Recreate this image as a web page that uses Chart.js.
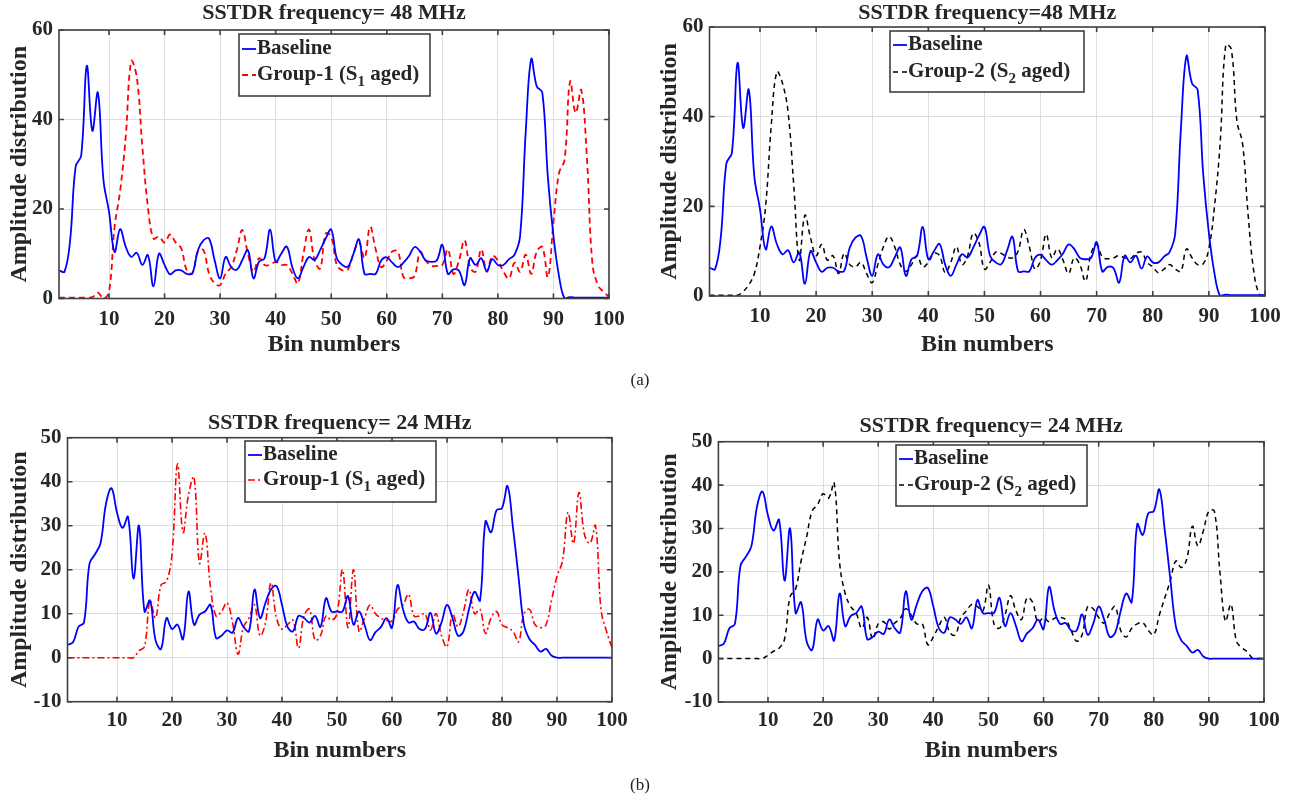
<!DOCTYPE html>
<html>
<head>
<meta charset="utf-8">
<script src="https://cdn.jsdelivr.net/npm/chart.js@4.4.1/dist/chart.umd.min.js"></script>
<style>
  body { margin:0; background:#fff; width:1295px; height:800px; position:relative; overflow:hidden;
         font-family:"Liberation Serif", "Times New Roman", serif; }
  .panel { position:absolute; }
  .cap { position:absolute; font-size:17px; color:#222; transform:translateX(-50%); }
</style>
</head>
<body>
<div class="panel" style="left:0;top:0;width:645px;height:372px"><canvas id="c48g1"></canvas></div>
<div class="panel" style="left:645px;top:0;width:650px;height:372px"><canvas id="c48g2"></canvas></div>
<div class="panel" style="left:0;top:400px;width:645px;height:372px"><canvas id="c24g1"></canvas></div>
<div class="panel" style="left:645px;top:400px;width:650px;height:372px"><canvas id="c24g2"></canvas></div>
<div class="cap" style="left:640px;top:370px">(a)</div>
<div class="cap" style="left:640px;top:775px">(b)</div>

<script>
// ── Dados ────────────────────────────────────────────────────
const BINS = Array.from({ length: 100 }, (_, i) => i + 1);
const X_TICKS = [10, 20, 30, 40, 50, 60, 70, 80, 90, 100];
const Y_TICKS_48 = [0, 20, 40, 60];
const Y_TICKS_24 = [-10, 0, 10, 20, 30, 40, 50];

const baseline48 = [
  6.3, 6.0, 13, 29.5, 32, 52, 37.5, 46, 26.5, 19.4,
  10.4, 15.5, 11.6, 9.3, 10.2, 7.5, 9.7, 2.7, 10, 7.5,
  5.4, 6.3, 6.3, 5.5, 5.6, 10.8, 13, 13.4, 8.6, 4.5,
  9.3, 7, 6.4, 8.6, 10.8, 4.5, 8.2, 9, 15.4, 8.2,
  10, 11.6, 7, 4.5, 7, 9.3, 8.6, 10.8, 13.4, 15.4,
  9, 7.5, 7.1, 10, 13.2, 5.5, 5.5, 5.5, 8.5, 9.2,
  8, 7, 8, 9.5, 11.5, 10.5, 8.5, 8.2, 8.5, 12,
  5.5, 6.5, 6.2, 3, 9, 7.5, 9, 6.1, 8.8, 7.5,
  7.5, 8.8, 9.8, 14, 37, 53.5, 47.4, 46, 27, 14,
  5, 0, 0.3, 0.2, 0.2, 0.2, 0.2, 0.2, 0.2, 0.2
];
const group1_48 = [
  0.2, 0.2, 0.2, 0.2, 0.2, 0.2, 0.3, 1.3, 0, 1.5,
  16, 24, 36, 53, 49.5, 34, 20.5, 13.4, 13.8, 12.5,
  14.3, 12.5, 11.2, 6.3, 5.6, 10.4, 10.8, 5.6, 3.4, 3,
  5.6, 7, 10.8, 15.3, 10, 6, 9, 7.5, 7.5, 8.2,
  7.5, 7.5, 5.6, 3.4, 10, 15.4, 8.6, 6.7, 14.5, 13.8,
  7.5, 6.3, 6.5, 10, 12.5, 9, 16, 11, 7, 8.5,
  10.5, 10.5, 4.8, 4.5, 5, 10.4, 8.5, 7.3, 7.3, 7.5,
  11, 5.5, 8.5, 13, 7, 6, 11, 6, 9.5, 8.5,
  6, 4.5, 8, 6, 9.8, 5.5, 10.5, 11.5, 4.8, 17,
  28, 31, 48.5, 41.5, 46.6, 32, 8, 3, 1.5, 0.4
];
const group2_48 = [
  0.15, 0.15, 0.15, 0.15, 0.15, 0.15, 1, 2.5, 5, 11,
  20, 38, 50, 47.5, 41, 25, 8, 18, 13, 9,
  11.5, 8, 9, 5, 9.5, 7, 6.5, 7.5, 5, 3,
  7, 11, 13.3, 11, 7, 5.5, 7, 9, 6.5, 7.5,
  9.5, 9, 5.2, 7.5, 11, 7, 9, 14, 12, 6,
  7.5, 9.8, 9.5, 8.7, 8.5, 10, 14.8, 11, 6, 8,
  13.8, 8.5, 10.5, 8, 5, 8.5, 7, 3.3, 9.5, 11.5,
  8.7, 8.3, 8.5, 9, 8.5, 8.3, 9.5, 9.8, 7.5, 6.5,
  5.2, 6, 7, 6, 5.5, 10.5, 8.5, 7, 7.2, 10.6,
  20, 34, 56, 55, 39, 34, 18, 5.5, 0.4, 0.1
];

const baseline24 = [
  2.9, 3.5, 7, 8, 21.4, 23.5, 26, 35, 38.5, 33,
  29.5, 32, 18, 30, 10.5, 13, 4, 2, 9, 6.5,
  7.5, 4.2, 15, 7.5, 9.8, 10.5, 12, 4.5, 5, 6.2,
  5.7, 9, 7, 6, 15.5, 9, 12.5, 15.5, 16.3, 12,
  7, 6, 9.5, 9, 8, 9.5, 7, 13.5, 10.5, 10.5,
  10.5, 14, 7.5, 10.5, 7.5, 4, 5.8, 7, 9, 6.8,
  16.5, 11, 8, 8.2, 6.5, 6.5, 10.2, 5.5, 8, 12,
  9, 5, 6, 11, 15, 13, 31, 28.5, 33.5, 34,
  39, 29.5, 18.4, 7.5, 4.2, 2.9, 1.4, 2, 0.5, 0,
  0, 0, 0, 0, 0, 0, 0, 0, 0, 0
];
const group1_24 = [
  0, 0, 0, 0, 0, 0, 0, 0, 0, 0,
  0, 0, 0, 1.6, 2.5, 13, 9, 16.5, 17.3, 23.5,
  44, 28.5, 37, 41, 21.5, 28.3, 16, 9.5, 10.5, 12.5,
  8, 0.8, 7, 9, 12, 5, 8, 17, 9, 6.5,
  7.5, 8.5, 2.2, 9.5, 11, 4, 5, 9.5, 8.5, 10,
  20, 6.8, 20, 6, 9, 12, 10, 9, 8.5, 8.3,
  11, 12, 14.4, 9.5, 9.5, 10, 6.3, 10, 5, 2.5,
  10, 7, 10.5, 15.5, 10, 11, 5.5, 9, 10.5, 7.5,
  6.8, 6, 3.6, 10, 11, 7.5, 6.8, 7.5, 13, 18.5,
  22, 33, 26, 37.5, 28, 26, 30, 11, 6, 2.3
];
const group2_24 = [
  0, 0, 0, 0, 0, 0, 0, 0, 0, 0.8,
  1.7, 2.4, 4.5, 14.3, 16, 22.5, 28, 34, 35.5, 38,
  37, 40.5, 22, 15, 12, 10.5, 7, 9.5, 4.5, 8,
  8.5, 6.8, 8.2, 9.3, 11.5, 10, 8, 8, 3.2, 5,
  7.5, 9.5, 6, 5.5, 9.5, 11, 12.5, 12, 11, 17,
  8, 7, 10, 14.5, 11, 9, 14, 13, 8.3, 9.5,
  8.5, 9.3, 9.5, 9, 6.5, 4, 5.5, 12, 11.5, 9.5,
  8.2, 10.5, 12, 6.5, 5, 7, 8, 8.3, 6.5, 5.5,
  10, 14, 18, 22.5, 21, 23, 30.5, 26, 29.5, 34,
  34, 20, 8.6, 12.5, 4, 2.5, 1.5, 0, 0, 0
];

// ── Estilos ──────────────────────────────────────────────────
const FONT = '"Liberation Serif", "Times New Roman", serif';
const INK  = '#262626';

const STYLE_BASE  = { borderColor: '#0000ff', borderWidth: 1.8, borderDash: [] };
const STYLE_RED48 = { borderColor: '#ff0000', borderWidth: 1.8, borderDash: [6, 4] };
const STYLE_RED24 = { borderColor: '#ff0000', borderWidth: 1.6, borderDash: [7, 3, 2, 3] };
const STYLE_BLACK = { borderColor: '#000000', borderWidth: 1.5, borderDash: [5, 4] };

// ── Plugins ──────────────────────────────────────────────────
const framePlugin = {
  id: 'frame',
  afterDatasetsDraw(chart) {
    const { ctx, chartArea: a, scales: { x, y } } = chart;
    ctx.save();
    ctx.strokeStyle = '#404040';
    ctx.lineWidth = 1.6;
    ctx.setLineDash([]);
    ctx.strokeRect(a.left, a.top, a.width, a.height);
    ctx.beginPath();
    x.ticks.forEach(t => {
      const px = x.getPixelForValue(t.value);
      ctx.moveTo(px, a.bottom); ctx.lineTo(px, a.bottom - 5);
      ctx.moveTo(px, a.top);    ctx.lineTo(px, a.top + 5);
    });
    y.ticks.forEach(t => {
      const py = y.getPixelForValue(t.value);
      ctx.moveTo(a.left, py);  ctx.lineTo(a.left + 5, py);
      ctx.moveTo(a.right, py); ctx.lineTo(a.right - 5, py);
    });
    ctx.stroke();
    ctx.restore();
  }
};

const legendPlugin = {
  id: 'boxLegend',
  afterDatasetsDraw(chart, args, opts) {
    const { ctx } = chart;
    const b = opts.box;
    ctx.save();
    ctx.fillStyle = '#fff';
    ctx.fillRect(b.x, b.y, b.w, b.h);
    ctx.strokeStyle = '#333';
    ctx.lineWidth = 1.5;
    ctx.strokeRect(b.x, b.y, b.w, b.h);
    chart.data.datasets.forEach((ds, i) => {
      const y = b.y + b.rows[i];
      ctx.beginPath();
      ctx.setLineDash(ds.borderDash || []);
      ctx.strokeStyle = ds.borderColor;
      ctx.lineWidth = ds.borderWidth;
      ctx.moveTo(b.x + 3, y);
      ctx.lineTo(b.x + 17, y);
      ctx.stroke();
      ctx.setLineDash([]);
      ctx.fillStyle = INK;
      ctx.textAlign = 'left';
      ctx.textBaseline = 'middle';
      let x = b.x + 18;
      ds.label.split(/_(\d)/).forEach((part, k) => {
        const sub = k % 2 === 1;
        ctx.font = `bold ${sub ? 15 : 21}px ${FONT}`;
        ctx.fillText(part, x, sub ? y + 7 : y);
        x += ctx.measureText(part).width;
      });
    });
    ctx.restore();
  }
};

// ── Montagem dos gráficos ────────────────────────────────────
function makeChart(id, L, series, yRange, yTicks, title) {
  const [bx, by, bw, bh] = L.box;
  const [pl, pt, pr, pb] = L.plot;
  const [lx, ly, lw, lh] = L.legend;

  return new Chart(document.getElementById(id), {
    type: 'line',
    data: {
      datasets: series.map(s => ({
        label: s.label,
        data: BINS.map((b, i) => ({ x: b, y: s.values[i] })),
        borderColor: s.style.borderColor,
        borderWidth: s.style.borderWidth,
        borderDash: s.style.borderDash,
        pointRadius: 0,
        tension: 0.4,
        fill: false
      }))
    },
    options: {
      responsive: true,
      maintainAspectRatio: false,
      devicePixelRatio: 1,
      animation: false,
      layout: { padding: { left: 0, top: 0, right: bx + bw - pr, bottom: 0 } },
      plugins: {
        legend: { display: false },
        tooltip: { enabled: false },
        title: {
          display: true,
          text: title,
          fullSize: false,
          color: INK,
          font: { family: FONT, size: 22, weight: 'bold', lineHeight: 1 },
          padding: { top: L.titleY - by - 11, bottom: pt - L.titleY - 11 }
        },
        boxLegend: { box: { x: lx - bx, y: ly - by, w: lw, h: lh, rows: L.rows } }
      },
      scales: {
        x: {
          type: 'linear',
          min: 1, max: 100,
          afterBuildTicks: s => { s.ticks = X_TICKS.map(v => ({ value: v })); },
          afterFit: s => { s.height = by + bh - pb; },
          grid: { color: '#dedede', lineWidth: 1, drawTicks: false },
          border: { display: false },
          ticks: { color: INK, padding: L.xTickPad, autoSkip: false, maxRotation: 0,
                   font: { family: FONT, size: 21, weight: 'bold', lineHeight: 1.2 } },
          title: { display: true, text: 'Bin numbers', color: INK,
                   font: { family: FONT, size: 24, weight: 'bold', lineHeight: 1 },
                   padding: { top: 0, bottom: by + bh - L.xTitleY - 12 } }
        },
        y: {
          min: yRange[0], max: yRange[1],
          afterBuildTicks: s => { s.ticks = yTicks.map(v => ({ value: v })); },
          afterFit: s => { s.width = pl - bx; },
          grid: { color: '#dedede', lineWidth: 1, drawTicks: false },
          border: { display: false },
          ticks: { color: INK, padding: 6,
                   font: { family: FONT, size: 21, weight: 'bold', lineHeight: 1.2 } },
          title: { display: true, text: 'Amplitude distribution', color: INK,
                   font: { family: FONT, size: 24, weight: 'bold', lineHeight: 1 },
                   padding: { top: L.yTitleX - bx - 12, bottom: 0 } }
        }
      }
    },
    plugins: [framePlugin, legendPlugin]
  });
}

const LAYOUT = {
  a1: { box: [0, 0, 645, 372],     plot: [59, 30, 609, 298.5],    titleY: 13,  xTitleY: 345, yTitleX: 19.5,
        xTickPad: 8, legend: [239, 34, 191, 62],  rows: [15, 41] },
  a2: { box: [645, 0, 650, 372],   plot: [709.5, 27, 1265, 296],  titleY: 13,  xTitleY: 345, yTitleX: 669.5,
        xTickPad: 8, legend: [890, 31, 194, 61],  rows: [14, 41] },
  b1: { box: [0, 400, 645, 372],   plot: [67.5, 437.7, 612, 701.7], titleY: 423, xTitleY: 751, yTitleX: 19.5,
        xTickPad: 6, legend: [245, 441, 191, 61], rows: [14, 39] },
  b2: { box: [645, 400, 650, 372], plot: [718.4, 441.7, 1264, 702], titleY: 426, xTitleY: 751, yTitleX: 669.5,
        xTickPad: 6, legend: [896, 445, 191, 61], rows: [14, 40] }
};

makeChart('c48g1', LAYOUT.a1, [
  { label: 'Baseline', values: baseline48, style: STYLE_BASE },
  { label: 'Group-1 (S_1 aged)', values: group1_48, style: STYLE_RED48 }
], [0, 60], Y_TICKS_48, 'SSTDR frequency= 48 MHz');

makeChart('c48g2', LAYOUT.a2, [
  { label: 'Baseline', values: baseline48, style: STYLE_BASE },
  { label: 'Group-2 (S_2 aged)', values: group2_48, style: STYLE_BLACK }
], [0, 60], Y_TICKS_48, 'SSTDR frequency=48 MHz');

makeChart('c24g1', LAYOUT.b1, [
  { label: 'Baseline', values: baseline24, style: STYLE_BASE },
  { label: 'Group-1 (S_1 aged)', values: group1_24, style: STYLE_RED24 }
], [-10, 50], Y_TICKS_24, 'SSTDR frequency= 24 MHz');

makeChart('c24g2', LAYOUT.b2, [
  { label: 'Baseline', values: baseline24, style: STYLE_BASE },
  { label: 'Group-2 (S_2 aged)', values: group2_24, style: STYLE_BLACK }
], [-10, 50], Y_TICKS_24, 'SSTDR frequency= 24 MHz');
</script>
</body>
</html>
